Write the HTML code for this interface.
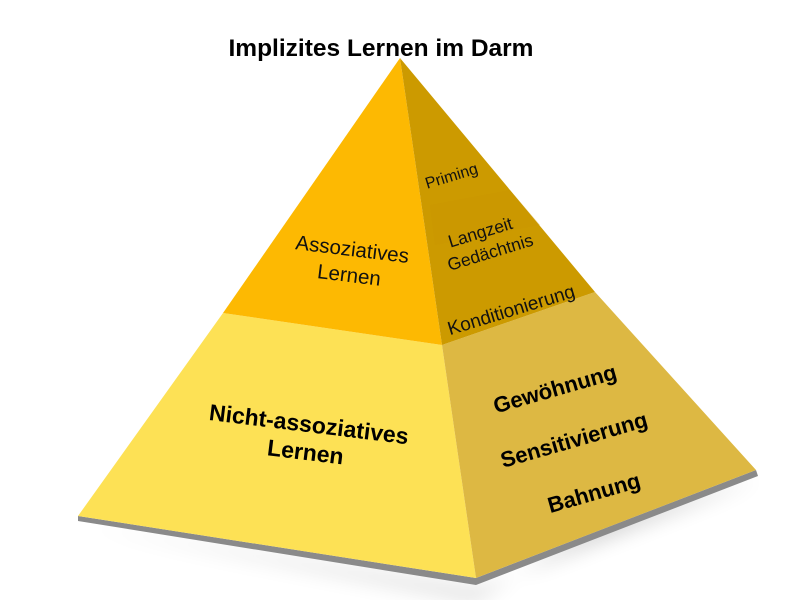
<!DOCTYPE html>
<html><head><meta charset="utf-8"><style>
html,body{margin:0;padding:0;background:#fff;}
svg{display:block;font-family:"Liberation Sans",Arial,sans-serif;}
</style></head><body>
<svg width="788" height="600" viewBox="0 0 788 600" xmlns="http://www.w3.org/2000/svg">
<defs>
<filter id="sh" x="-20%" y="-20%" width="140%" height="160%"><feGaussianBlur stdDeviation="10"/></filter>
</defs>
<polygon points="80,525 476,590 760,478 600,520 476,600" fill="#000" opacity="0.18" filter="url(#sh)"/>
<polygon points="78,516 476,578 756,470 758,476 476,585 78,521" fill="#8a8a8a"/>
<polygon points="223,313 442,345 476,578 78,516" fill="#FDE155"/>
<polygon points="442,345 595,292 756,470 476,578" fill="#DDB843"/>
<polygon points="400,58 442,345 223,313" fill="#FDB902"/>
<polygon points="400,58 595,292 442,345" fill="#CC9A00"/>
<polygon points="430,205 510,190 540,225 435,245" fill="#c99600" opacity="0.35"/>
<text x="381" y="56" font-size="24.5" font-weight="bold" text-anchor="middle" fill="#000">Implizites Lernen im Darm</text>
<g transform="rotate(7 350 268)" font-size="20.5" text-anchor="middle" fill="#111">
<text x="350" y="256">Assoziatives</text>
<text x="350" y="282">Lernen</text>
</g>
<g transform="rotate(7 307 440)" font-size="23" font-weight="bold" text-anchor="middle" fill="#000">
<text x="307" y="432">Nicht-assoziatives</text>
<text x="307" y="460">Lernen</text>
</g>
<g font-size="16" fill="#111" text-anchor="middle">
<text x="0" y="0" transform="translate(453,181) rotate(-17)">Priming</text>
<text x="0" y="0" transform="translate(482,238) rotate(-17)" font-size="17.5">Langzeit</text>
<text x="0" y="0" transform="translate(492,258) rotate(-17)" font-size="17.5">Gedächtnis</text>
<text x="0" y="0" transform="translate(513,316) rotate(-17)" font-size="19">Konditionierung</text>
</g>
<g font-size="22" font-weight="bold" fill="#000" text-anchor="middle">
<text x="0" y="0" transform="translate(557,396) rotate(-16)">Gewöhnung</text>
<text x="0" y="0" transform="translate(576,447) rotate(-16)">Sensitivierung</text>
<text x="0" y="0" transform="translate(596,500) rotate(-16)">Bahnung</text>
</g>
</svg>
</body></html>
